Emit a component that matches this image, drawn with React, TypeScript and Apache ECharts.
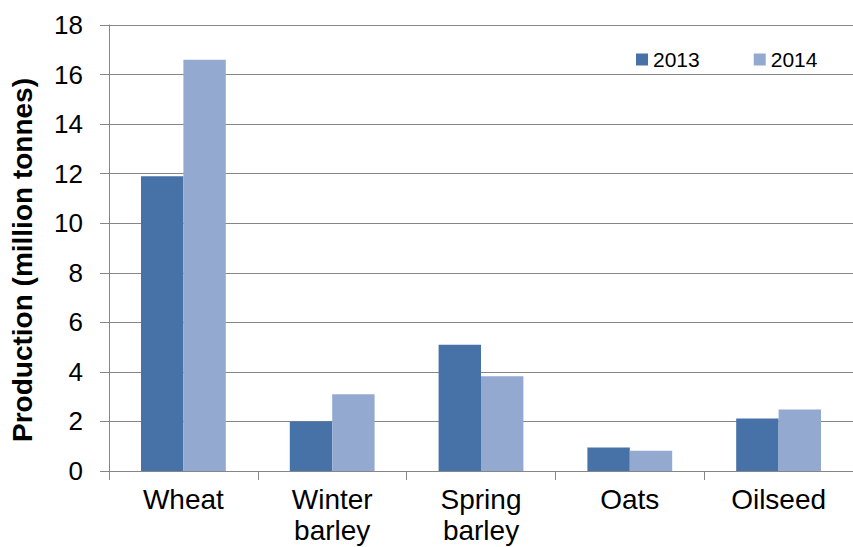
import React, { useEffect, useRef } from "react";
import * as echarts from "echarts";

const categories = ["Wheat", "Winter\nbarley", "Spring\nbarley", "Oats", "Oilseed"];
const values2013 = [11.9, 2.0, 5.1, 0.95, 2.12];
const values2014 = [16.6, 3.1, 3.82, 0.82, 2.48];
const seriesNames = ["2013", "2014"];
const yTitle = "Production (million tonnes)";

export default function App() {
  const ref = useRef<HTMLDivElement>(null);
  useEffect(() => {
    if (!ref.current) return;
    const chart = echarts.init(ref.current, null, { renderer: "svg" });
    const font = "'Liberation Sans', Arial, sans-serif";
    chart.setOption({
      animation: false,
      backgroundColor: "#ffffff",
      textStyle: { fontFamily: font },
      grid: { left: 109, top: 25, width: 753, height: 446, containLabel: false },
      legend: {
        data: seriesNames,
        left: 631,
        top: 44,
        icon: "rect",
        itemWidth: 12,
        itemHeight: 12,
        itemGap: 54,
        itemTextGap: 5,
        textStyle: { fontSize: 21, color: "#000", fontFamily: font },
      },
      graphic: [
        {
          type: "text",
          x: 22,
          y: 260,
          rotation: Math.PI / 2,
          style: {
            text: yTitle,
            fontSize: 28,
            fontWeight: "bold",
            fontFamily: font,
            fill: "#000",
            align: "center",
            verticalAlign: "middle",
          },
        },
      ],
      xAxis: {
        type: "category",
        data: categories,
        axisLine: { show: true, lineStyle: { color: "#868686", width: 1 } },
        axisTick: { show: true, length: 9, lineStyle: { color: "#868686" } },
        axisLabel: {
          fontSize: 28,
          color: "#000",
          fontFamily: font,
          margin: 13,
          lineHeight: 31,
          interval: 0,
        },
        splitLine: { show: false },
      },
      yAxis: {
        type: "value",
        min: 0,
        max: 18,
        interval: 2,
        axisLine: { show: true, lineStyle: { color: "#868686", width: 1 } },
        axisTick: { show: true, length: 9, lineStyle: { color: "#868686" } },
        axisLabel: { fontSize: 26, color: "#000", fontFamily: font, margin: 26 },
        splitLine: { show: true, lineStyle: { color: "#868686", width: 1 } },
      },
      series: [
        {
          name: seriesNames[0],
          type: "bar",
          data: values2013,
          barGap: "0%",
          barCategoryGap: "43%",
          itemStyle: { color: "#4672A8" },
        },
        {
          name: seriesNames[1],
          type: "bar",
          data: values2014,
          barGap: "0%",
          barCategoryGap: "43%",
          itemStyle: { color: "#93A9D0" },
        },
      ],
    });
    return () => chart.dispose();
  }, []);
  return (
    <div
      ref={ref}
      style={{ position: "fixed", left: 0, top: 0, width: 853, height: 547, background: "#fff" }}
    />
  );
}
